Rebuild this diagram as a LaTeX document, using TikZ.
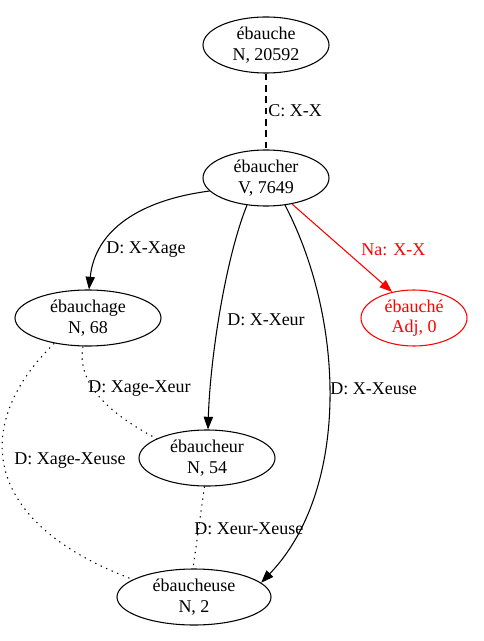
\documentclass[tikz,border=0pt]{standalone}
\usepackage{fontspec}
\setmainfont{Liberation Serif}
\usetikzlibrary{arrows.meta,shapes.geometric}
\begin{document}
\begin{tikzpicture}[x=0.75pt,y=-0.75pt,
  lex/.style={ellipse,draw,line width=0.8pt,inner sep=0pt,align=center,
    font=\fontsize{13.5}{15.5}\selectfont},
  lbl/.style={anchor=west,inner sep=0pt,font=\fontsize{13.5}{15.5}\selectfont},
  edge/.style={line width=0.8pt},
  arr/.style={edge,-{Triangle[length=9.5pt,width=7pt]}},
  dotline/.style={edge,dash pattern=on 1pt off 3.5pt},
  dashline/.style={edge,dash pattern=on 5pt off 3.5pt}]
\useasboundingbox (0,0) rectangle (484,641);
\node[lex,minimum width=126*0.75pt,minimum height=56*0.75pt] (eb) at (266,45) {ébauche\\N, 20592};
\node[lex,minimum width=126*0.75pt,minimum height=56*0.75pt] (ebr) at (266,178) {ébaucher\\V, 7649};
\node[lex,minimum width=146*0.75pt,minimum height=56*0.75pt] (ebg) at (88,318) {ébauchage\\N, 68};
\node[lex,draw=red,text=red,minimum width=106*0.75pt,minimum height=56*0.75pt] (ebe) at (414,318) {ébauché\\Adj, 0};
\node[lex,minimum width=136*0.75pt,minimum height=56*0.75pt] (ebu) at (207,458) {ébaucheur\\N, 54};
\node[lex,minimum width=154*0.75pt,minimum height=56*0.75pt] (ebs) at (194,597) {ébaucheuse\\N, 2};

\draw[dashline] (eb.south) -- (ebr.north);
\draw[arr] (ebr.193) .. controls (140,200) and (95,230) .. (ebg.88);
\draw[arr] (ebr.235) .. controls (225,260) and (210,360) .. (ebu.88);
\draw[arr] (ebr.-55) .. controls (345,320) and (350,490) .. (ebs.12);
\draw[arr,red] (ebr.-45) -- (ebe.130);
\draw[dotline] (ebg.-100) .. controls (76,385) and (112,415) .. (ebu.159);
\draw[dotline] (ebg.217) .. controls (-25,420) and (-25,520) .. (ebs.164);
\draw[dotline] (ebu.-95) -- (ebs.92);

\node[lbl] (l1) at (268,111) {C: X-X};
\node[lbl] (l2) at (106,250) {D: X-Xage};
\node[lbl,text=red] (l3) at (361,250) {Na: X-X};
\node[lbl] (l4) at (227,320) {D: X-Xeur};
\node[lbl] (l5) at (330,389) {D: X-Xeuse};
\node[lbl] (l6) at (88,389) {D: Xage-Xeur};
\node[lbl] (l7) at (14,461) {D: Xage-Xeuse};
\node[lbl] (l8) at (194,529) {D: Xeur-Xeuse};
\end{tikzpicture}
\end{document}
